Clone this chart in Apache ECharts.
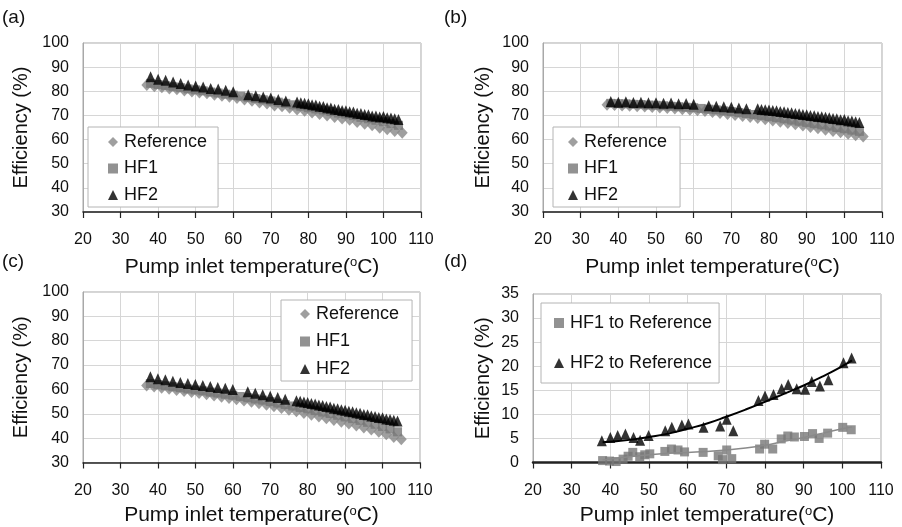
<!DOCTYPE html>
<html>
<head>
<meta charset="utf-8">
<script src="https://cdn.jsdelivr.net/npm/echarts@6/dist/echarts.min.js"></script>
<style>
  html, body { margin: 0; padding: 0; background: #fff; }
  #chart { width: 902px; height: 527px; }
</style>
</head>
<body>
<div id="chart"></div>
<script>
// Pump inlet temperatures (ºC) at which each fluid was measured
const refTemps = [37,39,41,43,45,47,49,51,53,55,57,59,61,63,65,67,69,71,73,75,77,79,81,83,85,87,89,91,93,95,97,99,101,103,105];
const hf1Temps = [38,40,42,44,46,48,50,52,54,56,58,60,62,64,66,68,70,72,74,76,78,80,82,84,86,88,90,92,94,96,98,100,102,104];
const hf2Temps = [38,40,42,44,46,48,50,52,54,56,58,60,64,66,68,70,72,74,77,78,79,80,81,82,83,84,85,86,87,88,89,90,91,92,93,94,95,96,97,98,99,100,101,102,103,104];

// (a) efficiency (%)
const refA = [82.6,82.1,81.7,81.2,80.8,80.3,79.9,79.5,79.2,78.6,78.1,77.7,77.2,76.6,76.1,75.4,74.9,74.1,73.8,73.2,72.5,71.9,71.2,70.6,70.0,69.3,68.7,68.2,67.3,66.6,65.9,64.9,64.3,63.6,62.8];
const hf1A = [83.3,82.8,82.3,81.9,81.5,81.0,80.6,80.2,79.7,79.3,78.8,78.4,78.0,77.5,77.0,76.5,76.0,75.5,75.0,74.4,73.8,73.2,72.7,72.2,71.6,71.0,70.5,69.9,69.2,68.6,68.0,67.4,66.6,65.9];
const hf2A = [86.0,85.0,84.6,83.8,83.2,82.6,82.2,81.8,81.2,80.9,80.4,79.8,
              78.6,78.2,77.6,77.2,76.6,76.0,
              75.6,75.2,75.0,74.8,74.4,74.3,73.8,73.7,73.2,73.1,72.6,72.5,72.0,71.9,71.5,71.4,70.9,70.8,70.4,70.3,69.8,69.8,69.4,69.6,69.0,68.9,68.6,68.3];

// (b) efficiency (%)
const refB = [74.4,74.3,74.1,74.0,73.8,73.7,73.5,73.3,73.1,72.9,72.6,72.4,72.1,71.8,71.4,71.0,70.6,70.2,69.8,69.4,68.9,68.4,67.9,67.4,66.9,66.3,65.8,65.2,64.7,64.1,63.6,63.0,62.4,61.8,61.3];
const hf1B = [75.0,74.9,74.8,74.6,74.5,74.3,74.2,74.0,73.8,73.6,73.4,73.2,72.9,72.6,72.3,71.9,71.6,71.2,70.8,70.4,70.0,69.5,69.1,68.6,68.1,67.6,67.1,66.6,66.1,65.6,65.0,64.5,63.9,63.4];
const hf2B = [75.8,75.5,75.7,75.4,75.5,75.2,75.3,75.0,75.1,74.8,74.9,74.6,
              74.0,73.8,73.6,73.4,73.1,72.8,
              72.8,72.5,72.4,72.2,72.0,71.9,71.6,71.5,71.2,71.1,70.8,70.7,70.4,70.3,70.0,69.9,69.6,69.5,69.2,69.0,68.7,68.6,68.2,68.3,67.8,67.7,67.4,67.1];

// (c) efficiency (%)
const refC = [61.6,61.2,60.7,60.3,59.8,59.4,58.9,58.5,58.0,57.5,57.0,56.5,56.0,55.5,54.9,54.3,53.7,53.1,52.4,51.7,51.0,50.3,49.6,48.9,48.2,47.5,46.7,46.0,45.2,44.4,43.5,42.6,41.6,40.5,39.5];
const hf1C = [62.4,62.0,61.5,61.1,60.7,60.2,59.8,59.4,58.9,58.5,58.0,57.6,57.1,56.6,56.1,55.6,55.0,54.4,53.8,53.2,52.6,52.0,51.3,50.7,50.1,49.4,48.7,48.0,47.3,46.5,45.7,44.8,43.8,42.6];
const hf2C = [65.2,64.4,64.0,63.4,62.8,62.4,62.0,61.6,61.2,60.8,60.5,60.0,
              59.0,58.4,57.8,57.2,56.7,56.0,
              55.4,55.1,54.8,54.6,54.2,54.0,53.6,53.4,53.0,52.8,52.3,52.1,51.7,51.5,51.0,50.8,50.4,50.2,49.7,49.6,49.1,48.9,48.5,48.4,47.9,47.7,47.3,47.0];

// (d) efficiency gain relative to the reference fluid (%)
const relTempsHF1 = [38,39.8,41.5,43.3,44.6,45.8,47.6,48.9,50.2,54.1,55.8,57.5,59.2,64,67.9,69,70.1,71.4,78.6,79.9,82,84.2,85.9,87.6,90.2,92.3,94,96.2,100.1,102.3];
const relHF1 = [0.4,0.3,0.2,0.7,1.3,2.1,1.2,1.6,1.8,2.3,2.8,2.6,2.2,2.1,1.4,0.6,2.6,0.8,2.8,3.8,2.8,4.9,5.5,5.3,5.4,6.0,5.0,6.1,7.3,6.8];
const relTempsHF2 = [37.8,40,41.9,43.9,46,47.7,49.9,54.2,55.9,58.5,60.2,64.1,68.4,70.1,71.8,78.3,80,82.2,84.3,86,88.2,90.4,92.1,94.2,96.4,100.3,102.4];
const relHF2 = [4.5,5.2,5.6,5.9,5.2,4.6,5.6,6.6,7.3,7.8,8.0,7.3,7.6,9.0,6.6,12.9,13.8,14.1,15.3,16.2,15.3,15.2,16.8,15.9,17.2,20.7,21.7];

// Trend curves through the relative gains
const trendTemps = [38,45,50,55,60,65,70,75,80,85,90,95,100,102.5];
const hf1Trend = [0.5,1.2,1.6,1.9,2.1,2.3,2.6,3.0,3.6,4.4,5.2,6.1,7.0,7.4];
const hf2Trend = [4.2,4.7,5.3,6.0,7.0,8.1,9.5,11.0,12.6,14.3,16.0,17.9,20.0,21.2];

const panelLabels = ['(a)', '(b)', '(c)', '(d)'];
const xTitle = 'Pump inlet temperature({s|o}C)';
const yTitle = 'Efficiency (%)';
const legendNames = ['Reference', 'HF1', 'HF2'];
const legendNamesD = ['HF1 to Reference', 'HF2 to Reference'];

const FONT = '"Liberation Sans", Arial, sans-serif';
const GRAY_REF = '#878787';
const GRAY_HF1 = '#777777';

const pairs = (xs, ys) => xs.map((x, i) => [x, ys[i]]);

const grids = [
  { left: 83, top: 43, width: 338, height: 169 },
  { left: 543, top: 43, width: 339, height: 169 },
  { left: 83, top: 292, width: 337, height: 172 },
  { left: 533, top: 294, width: 348, height: 170 }
].map(g => Object.assign(g, { show: true, borderColor: '#a8a8a8', borderWidth: 1, backgroundColor: '#fff' }));

function xAxisFor(i, nameGap, thick) {
  return {
    type: 'value', gridIndex: i, min: 20, max: 110, interval: 10,
    name: xTitle, nameLocation: 'middle', nameGap: nameGap,
    nameTextStyle: {
      fontFamily: FONT, fontSize: 21, color: '#111',
      rich: { s: { fontFamily: FONT, fontSize: 13, color: '#111', padding: [0, 0, 9, 0] } }
    },
    axisLine: { show: true, onZero: false, lineStyle: { color: '#222', width: thick ? 2.5 : 1.5 } },
    axisTick: { show: true, inside: false, length: 6, lineStyle: { color: '#222', width: 1.2 } },
    axisLabel: { fontFamily: FONT, fontSize: 16, color: '#111', margin: 20 },
    splitLine: { show: true, lineStyle: { color: '#d6d6d6', width: 1 } }
  };
}

function yAxisFor(i, min, max, interval, nameGap) {
  return {
    type: 'value', gridIndex: i, min: min, max: max, interval: interval,
    name: yTitle, nameLocation: 'middle', nameGap: nameGap,
    nameTextStyle: { fontFamily: FONT, fontSize: 20, color: '#111' },
    axisLine: { show: true, lineStyle: { color: '#a8a8a8', width: 1 } },
    axisTick: { show: false },
    axisLabel: { fontFamily: FONT, fontSize: 16, color: '#111', margin: 14 },
    splitLine: { show: true, lineStyle: { color: '#d6d6d6', width: 1 } }
  };
}

function efficiencySeries(i, ref, hf1, hf2) {
  return [
    { name: 'Reference', type: 'scatter', xAxisIndex: i, yAxisIndex: i, symbol: 'diamond', symbolSize: [11, 12],
      itemStyle: { color: GRAY_REF }, data: pairs(refTemps, ref), z: 2 },
    { name: 'HF1', type: 'scatter', xAxisIndex: i, yAxisIndex: i, symbol: 'rect', symbolSize: 9,
      itemStyle: { color: GRAY_HF1 }, data: pairs(hf1Temps, hf1), z: 3 },
    { name: 'HF2', type: 'scatter', xAxisIndex: i, yAxisIndex: i, symbol: 'triangle', symbolSize: [10, 11],
      itemStyle: { color: '#000' }, data: pairs(hf2Temps, hf2), z: 4 }
  ];
}

function legendAt(left, top, padding, gap, names) {
  return {
    data: names.map(n => ({ name: n, itemStyle: { color: n === 'Reference' ? GRAY_REF : (n.indexOf('HF1') === 0 ? GRAY_HF1 : '#000') } })),
    orient: 'vertical', left: left, top: top, padding: padding, itemGap: gap,
    itemWidth: 10, itemHeight: 10, selectedMode: false,
    backgroundColor: '#fff', borderColor: '#b4b4b4', borderWidth: 1, borderRadius: 0,
    textStyle: { fontFamily: FONT, fontSize: 18, color: '#111', lineHeight: 18, padding: [0, 0, 0, 1] }
  };
}

const chart = echarts.init(document.getElementById('chart'), null, { renderer: 'canvas' });

const option = {
  animation: false,
  backgroundColor: '#fff',
  grid: grids,
  xAxis: [xAxisFor(0, 44), xAxisFor(1, 44), xAxisFor(2, 42), xAxisFor(3, 42, true)],
  yAxis: [yAxisFor(0, 30, 100, 10, 52), yAxisFor(1, 30, 100, 10, 50), yAxisFor(2, 30, 100, 10, 52), yAxisFor(3, 0, 35, 5, 40)],
  legend: [
    legendAt(88, 127, [6, 11, 3, 20], 8.5, legendNames),
    legendAt(553, 127, [6, 13, 3, 15], 8.5, legendNames),
    legendAt(281, 300, [5, 13, 3, 19], 9.5, legendNames),
    legendAt(541, 303, [11, 7, 11, 13], 22, legendNamesD)
  ],
  graphic: [
    { type: 'text', left: 2, top: 8, style: { text: panelLabels[0], font: '19px ' + FONT, fill: '#111' } },
    { type: 'text', left: 444, top: 8, style: { text: panelLabels[1], font: '19px ' + FONT, fill: '#111' } },
    { type: 'text', left: 2, top: 252, style: { text: panelLabels[2], font: '19px ' + FONT, fill: '#111' } },
    { type: 'text', left: 444, top: 252, style: { text: panelLabels[3], font: '19px ' + FONT, fill: '#111' } }
  ],
  series: [
    ...efficiencySeries(0, refA, hf1A, hf2A),
    ...efficiencySeries(1, refB, hf1B, hf2B),
    ...efficiencySeries(2, refC, hf1C, hf2C),
    { name: 'HF1 to Reference', type: 'scatter', xAxisIndex: 3, yAxisIndex: 3, symbol: 'rect', symbolSize: 9,
      itemStyle: { color: GRAY_HF1 }, data: pairs(relTempsHF1, relHF1), z: 2 },
    { name: 'HF2 to Reference', type: 'scatter', xAxisIndex: 3, yAxisIndex: 3, symbol: 'triangle', symbolSize: [10, 11],
      itemStyle: { color: '#000' }, data: pairs(relTempsHF2, relHF2), z: 3 },
    { name: 'HF1 trend', type: 'line', xAxisIndex: 3, yAxisIndex: 3, smooth: true, showSymbol: false, symbol: 'none',
      lineStyle: { color: '#8a8a8a', width: 1.5 }, data: pairs(trendTemps, hf1Trend), z: 4 },
    { name: 'HF2 trend', type: 'line', xAxisIndex: 3, yAxisIndex: 3, smooth: true, showSymbol: false, symbol: 'none',
      lineStyle: { color: '#000', width: 2 }, data: pairs(trendTemps, hf2Trend), z: 5 }
  ]
};

chart.setOption(option);
</script>
</body>
</html>
